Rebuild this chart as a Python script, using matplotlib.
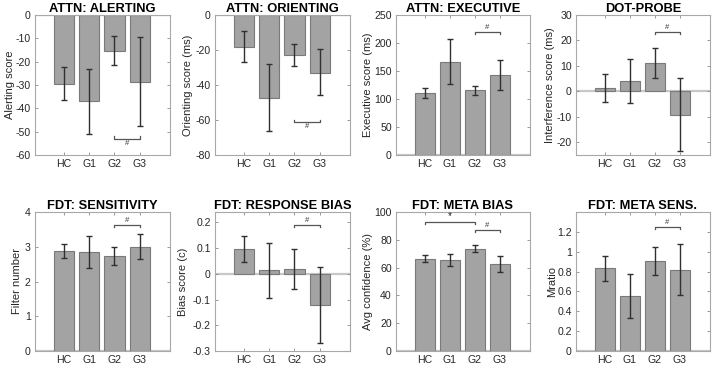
import matplotlib

matplotlib.use("Agg")
import matplotlib.pyplot as plt

plt.rcParams["font.family"] = ["Liberation Sans", "DejaVu Sans"]
plt.rcParams["axes.unicode_minus"] = False

GROUPS = ["HC", "G1", "G2", "G3"]

TITLES = ["ATTN: ALERTING", "ATTN: ORIENTING", "ATTN: EXECUTIVE", "DOT-PROBE",
          "FDT: SENSITIVITY", "FDT: RESPONSE BIAS", "FDT: META BIAS", "FDT: META SENS."]
YLABELS = ["Alerting score", "Orienting score (ms)", "Executive score (ms)",
           "Interference score (ms)", "Filter number", "Bias score (c)",
           "Avg confidence (%)", "Mratio"]

# bar means, and error-bar lower / upper ends
ALERT_MEAN = [-29.5, -37.0, -15.3, -28.7]
ALERT_LO = [-36.5, -51.0, -21.5, -47.5]
ALERT_HI = [-22.3, -23.0, -9.0, -9.5]

ORIENT_MEAN = [-18.0, -47.5, -23.0, -33.0]
ORIENT_LO = [-27.0, -66.5, -29.0, -46.0]
ORIENT_HI = [-9.0, -28.0, -16.5, -19.5]

EXEC_MEAN = [110.0, 166.0, 115.5, 142.5]
EXEC_LO = [101.0, 126.0, 108.0, 116.0]
EXEC_HI = [119.0, 207.0, 122.5, 169.0]

DOT_MEAN = [1.2, 4.1, 11.2, -9.2]
DOT_LO = [-4.3, -4.5, 5.3, -23.5]
DOT_HI = [6.8, 12.7, 17.1, 5.2]

SENS_MEAN = [2.88, 2.85, 2.74, 3.00]
SENS_LO = [2.67, 2.39, 2.48, 2.65]
SENS_HI = [3.08, 3.31, 2.99, 3.36]

BIAS_MEAN = [0.098, 0.013, 0.018, -0.122]
BIAS_LO = [0.045, -0.095, -0.060, -0.270]
BIAS_HI = [0.148, 0.120, 0.095, 0.028]

CONF_MEAN = [66.5, 65.5, 73.5, 62.5]
CONF_LO = [64.0, 61.0, 71.0, 57.0]
CONF_HI = [69.0, 70.0, 76.0, 68.5]

MRATIO_MEAN = [0.835, 0.55, 0.905, 0.82]
MRATIO_LO = [0.71, 0.33, 0.765, 0.56]
MRATIO_HI = [0.96, 0.775, 1.05, 1.08]

MEANS = [ALERT_MEAN, ORIENT_MEAN, EXEC_MEAN, DOT_MEAN,
         SENS_MEAN, BIAS_MEAN, CONF_MEAN, MRATIO_MEAN]
LOWS = [ALERT_LO, ORIENT_LO, EXEC_LO, DOT_LO, SENS_LO, BIAS_LO, CONF_LO, MRATIO_LO]
HIGHS = [ALERT_HI, ORIENT_HI, EXEC_HI, DOT_HI, SENS_HI, BIAS_HI, CONF_HI, MRATIO_HI]

YLIMS = [(-60, 0), (-80, 0), (0, 250), (-25, 30), (0, 4), (-0.3, 0.24), (0, 100), (0, 1.4)]
YTICKS = [range(-60, 1, 10), range(-80, 1, 20), range(0, 251, 50), range(-20, 31, 10),
          range(0, 5), [-0.3, -0.2, -0.1, 0, 0.1, 0.2], range(0, 101, 20),
          [0, 0.2, 0.4, 0.6, 0.8, 1, 1.2]]
YTICKLABELS = [None, None, None, None, None,
               ["-0.3", "-0.2", "-0.1", "0", "0.1", "0.2"], None,
               ["0", "0.2", "0.4", "0.6", "0.8", "1", "1.2"]]

# significance brackets: (panel, group a, group b, y, label)
BRACKETS = [(0, 2, 3, -53.0, "#"), (1, 2, 3, -61.0, "#"), (2, 2, 3, 220.0, "#"),
            (3, 2, 3, 23.5, "#"), (4, 2, 3, 3.63, "#"), (5, 2, 3, 0.19, "#"),
            (6, 0, 2, 93.0, "*"), (6, 2, 3, 87.0, "#"), (7, 2, 3, 1.25, "#")]

BAR_FILL = "#a3a3a3"
BAR_EDGE = "#7a7a7a"
ERR_COLOR = "#303030"
SPINE = "#a8a8a8"

# axes boxes in pixels (left, right) and (top, bottom)
COLS = [(35, 170), (215, 350), (396, 530), (576, 710)]
ROWS = [(15, 155), (212, 351)]
# right edge of each y label, in pixels left of its axes
YLAB_OFF = [20, 22, 23, 21, 13, 27, 23, 19]
W, H = 714, 365

fig = plt.figure(figsize=(W / 100, H / 100), dpi=100)

x = [1, 2, 3, 4]
for i in range(8):
    l, r = COLS[i % 4]
    t, b = ROWS[i // 4]
    ax = fig.add_axes([l / W, 1 - b / H, (r - l) / W, (b - t) / H])
    means = MEANS[i]
    lo = [m - v for m, v in zip(means, LOWS[i])]
    hi = [v - m for m, v in zip(means, HIGHS[i])]
    ax.axhline(0, color="#c8c8c8", lw=1.6, zorder=1)
    ax.bar(x, means, 0.8, color=BAR_FILL, edgecolor=BAR_EDGE, lw=0.8, zorder=2)
    ax.errorbar(x, means, yerr=[lo, hi], fmt="none", ecolor=ERR_COLOR,
                elinewidth=1.0, capsize=2.2, capthick=1.0, zorder=3)
    ax.set_xlim(-0.15, 5.2)
    ax.set_ylim(*YLIMS[i])
    ax.set_xticks(x)
    ax.set_xticklabels(GROUPS)
    ax.set_yticks(list(YTICKS[i]))
    if YTICKLABELS[i] is not None:
        ax.set_yticklabels(YTICKLABELS[i])
    ax.tick_params(direction="in", length=2, width=0.6, color="#888888", pad=3,
                   labelsize=7.6, top=True, right=True, labeltop=False, labelright=False,
                   labelcolor="#262626")
    for s in ax.spines.values():
        s.set_color(SPINE)
        s.set_linewidth(0.8)
    ax.set_ylabel(YLABELS[i], fontsize=8, color="#262626")
    ax.yaxis.set_label_coords(-YLAB_OFF[i] / (r - l), 0.5)
    ax.set_title(TITLES[i], fontsize=9.3, fontweight="bold", pad=2)

for p, a, b, y, lab in BRACKETS:
    ax = fig.axes[p]
    y0, y1 = YLIMS[p]
    tip = (y1 - y0) * 0.016
    # brackets under the (negative) bars point up, the others point down
    up = y1 == 0
    d = tip if up else -tip
    ax.plot([a + 1, a + 1, b + 1, b + 1], [y + d, y, y, y + d],
            color="#555555", lw=0.9, zorder=4)
    ty = y - (y1 - y0) * 0.012 if up else y + (y1 - y0) * 0.006
    ax.text((a + b) / 2 + 1, ty, lab, ha="center", va="top" if up else "bottom",
            fontsize=7 if lab == "*" else 5.5, color="#333333")

fig.savefig("out.png", dpi=100)
